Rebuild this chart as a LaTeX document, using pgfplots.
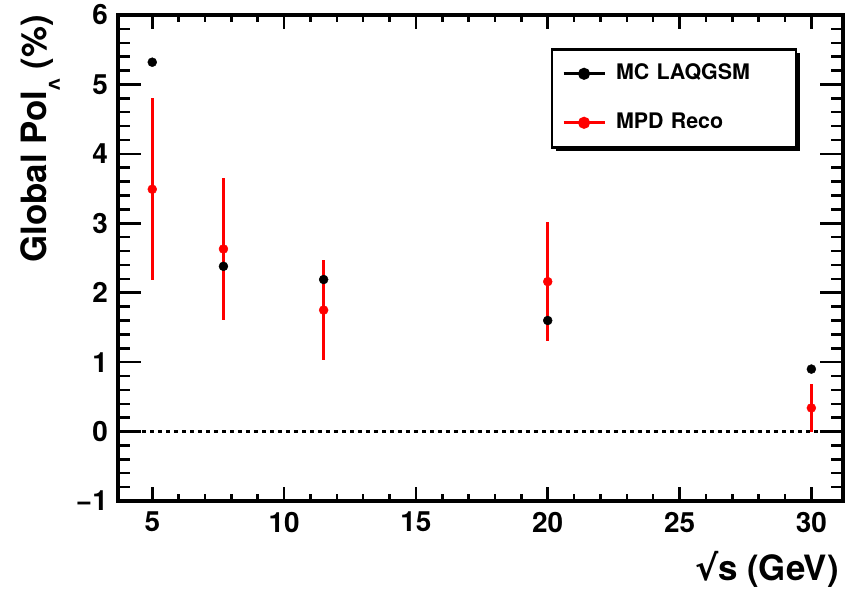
\documentclass[border=0pt]{standalone}
\usepackage{fontspec}
\setmainfont{TeX Gyre Heros}
\newfontfamily\dejavu{DejaVu Sans}
\usepackage{pgfplots}
\pgfplotsset{compat=1.18}
\usetikzlibrary{shadows}

\pgfplotsset{rootframe/.style={
  scale only axis, width=725bp, height=486bp,
  xmin=3.7, xmax=31.2, ymin=-1, ymax=6,
  tick align=inside, tick pos=both,
  xticklabel pos=lower, yticklabel pos=left,
  axis line style={line width=3.5bp},
  every tick/.style={line width=2.5bp, black},
  /pgf/number format/assume math mode=true,
  ticklabel style={font=\fontsize{28}{28}\selectfont\bfseries, inner sep=0pt},
  label style={font=\fontsize{35}{35}\selectfont\bfseries, inner sep=0pt},
}}

\begin{document}
\begin{tikzpicture}
\useasboundingbox (-118bp,-89bp) rectangle (741bp,501bp);
% x ticks, data and legend
\begin{axis}[rootframe,
  xtick={5,10,...,30}, minor x tick num=4, ytick=\empty,
  major tick length=14bp, minor tick length=7bp,
  xticklabel style={yshift=-11bp},
  xlabel={{\dejavu √}s (GeV)},
  xlabel style={at={(rel axis cs:1,0)}, anchor=north east, yshift=-50bp, xshift=-4bp},
  legend style={at={(rel axis cs:0.937,0.932)}, anchor=north east,
    draw=black, line width=2.5bp, fill=white,
    drop shadow={shadow xshift=4bp, shadow yshift=-4bp, fill=black, opacity=1},
    font=\fontsize{21.5}{21.5}\selectfont\bfseries,
    inner xsep=10bp, inner ysep=14bp, row sep=28bp,
    nodes={inner sep=0pt, text height=16bp, text depth=5bp, text width=170bp},
    /tikz/every odd column/.append style={column sep=10bp}},
  legend cell align=left,
  legend image code/.code={
    \begin{scope}[#1]
      \pgfsetlinewidth{3bp}
      \pgfpathmoveto{\pgfqpoint{0bp}{0bp}}
      \pgfpathlineto{\pgfqpoint{41bp}{0bp}}
      \pgfusepath{stroke}
      \pgftransformshift{\pgfqpoint{20.5bp}{0bp}}
      \pgfuseplotmark{*}
    \end{scope}
  },
]
\addplot[forget plot, black, line width=2.2bp, dash pattern=on 4bp off 4bp] coordinates {(3.7,0) (31.2,0)};
\addplot[only marks, mark=*, black, mark size=4.5bp] coordinates {
  (5,5.32) (7.7,2.38) (11.5,2.19) (20,1.60) (30,0.90)};
\addplot[only marks, mark=*, red, mark size=4.5bp,
  error bars/.cd, y dir=both, y explicit,
  error bar style={line width=3.5bp, red}, error mark=none]
  coordinates {
  (5,3.49) +- (0,1.31)
  (7.7,2.63) +- (0,1.02)
  (11.5,1.75) +- (0,0.72)
  (20,2.16) +- (0,0.855)
  (30,0.34) +- (0,0.34)};
\legend{MC LAQGSM, MPD Reco}
\end{axis}
% y ticks and label
\begin{axis}[rootframe,
  xtick=\empty, ytick={-1,0,...,6}, minor y tick num=4,
  yticklabels={−1,0,1,2,3,4,5,6},
  major tick length=23bp, minor tick length=12bp,
  yticklabel style={xshift=-10bp},
  ylabel={Global Pol\raisebox{-13bp}{\fontsize{15}{15}\selectfont\dejavu Λ} (\%)},
  ylabel style={at={(rel axis cs:0,1)}, anchor=south east, yshift=58bp},
]
\end{axis}
\end{tikzpicture}
\end{document}
